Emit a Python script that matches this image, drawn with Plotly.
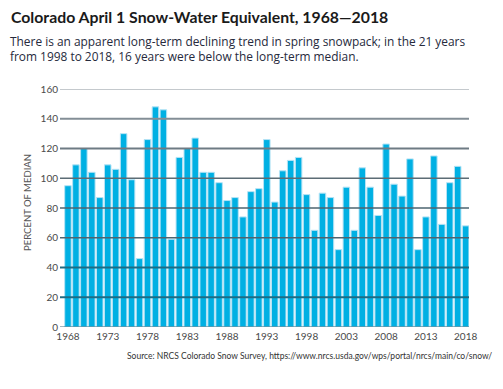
import plotly.graph_objects as go

years = list(range(1968, 2019))
percent_of_median = [95, 109, 120, 104, 87, 109, 106, 130, 99, 46,
                     126, 148, 146, 59, 114, 120, 127, 104, 104, 97,
                     85, 87, 74, 91, 93, 126, 84, 105, 112, 114,
                     89, 65, 90, 87, 52, 94, 65, 107, 94, 75,
                     123, 96, 88, 113, 52, 74, 115, 69, 97, 108, 68]
y_ticks = [0, 20, 40, 60, 80, 100, 120, 140, 160]
x_ticks = [1968, 1973, 1978, 1983, 1988, 1993, 1998, 2003, 2008, 2013, 2018]

title = "Colorado April 1 Snow-Water Equivalent, 1968\u20142018"
subtitle = ("There is an apparent long-term declining trend in spring snowpack; in the 21 years<br>"
            "from 1998 to 2018, 16 years were below the long-term median.")
source = "Source: NRCS Colorado Snow Survey, https://www.nrcs.usda.gov/wps/portal/nrcs/main/co/snow/"
y_title = "PERCENT OF MEDIAN"

fig = go.Figure()
fig.add_trace(go.Bar(
    x=years, y=percent_of_median,
    marker=dict(color="#00b0e3", line=dict(color="#b5e3f5", width=1)),
    width=0.82, hoverinfo="x+y",
))

grid_style = {
    0: ("#3f6f80", 1), 20: ("#1d6c84", 2.2), 40: ("#1d6c84", 2.2),
    60: ("#4d6570", 1.3), 80: ("#4d6570", 1.3), 100: ("#5c6c75", 1.3),
    120: ("#6e7b84", 2.2), 140: ("#838e96", 2.2), 160: ("#8a949b", 1.2),
}
shapes = []
for v in y_ticks:
    c, w = grid_style[v]
    shapes.append(dict(type="line", xref="paper", x0=0, x1=1, yref="y", y0=v, y1=v,
                       line=dict(color=c, width=w), layer="above"))

# page body has an 8px default margin; work in reference pixels and offset by it
OFF = 8
W, H = 503 - OFF, 389 - OFF
L, R, T, B = 60 - OFF, 34, 89 - OFF, 62
pw = W - L - R
ph = H - T - B

def px_x(x):
    return (x - OFF - L) / pw

def px_y(y):
    return (H - B - (y - OFF)) / ph

fig.update_layout(
    width=W, height=H,
    margin=dict(l=L, r=R, t=T, b=B, autoexpand=False),
    paper_bgcolor="white", plot_bgcolor="white",
    showlegend=False,
    shapes=shapes,
    xaxis=dict(range=[1967.0, 2018.42], tickvals=x_ticks, ticks="", showgrid=False,
               zeroline=False, showline=False, automargin=False, ticklabelstandoff=2,
               tickfont=dict(family="Lato", size=10, color="#4a4a4a")),
    yaxis=dict(range=[0, 160], tickvals=y_ticks, ticks="", showgrid=False,
               zeroline=False, showline=False, automargin=False, ticklabelstandoff=1,
               tickfont=dict(family="Lato", size=10, color="#4a4a4a")),
    annotations=[
        dict(text="<b>" + title + "</b>", xref="paper", yref="paper", x=px_x(9), y=px_y(17),
             xanchor="left", yanchor="middle", showarrow=False,
             font=dict(family="Lato", size=15.8, color="#1a1a1a")),
        dict(text=subtitle, xref="paper", yref="paper", x=px_x(8), y=px_y(48.5),
             xanchor="left", yanchor="middle", showarrow=False, align="left",
             font=dict(family="Open Sans", size=11.9, color="#262a3c")),
        dict(text=y_title, xref="paper", yref="paper", x=px_x(27), y=px_y(203),
             xanchor="center", yanchor="middle", showarrow=False, textangle=-90,
             font=dict(family="Lato", size=9.5, color="#555555")),
        dict(text=source, xref="paper", yref="paper", x=px_x(494), y=px_y(356),
             xanchor="right", yanchor="middle", showarrow=False,
             font=dict(family="Lato", size=8.5, color="#333333")),
    ],
)

fig.write_html("out.html")
